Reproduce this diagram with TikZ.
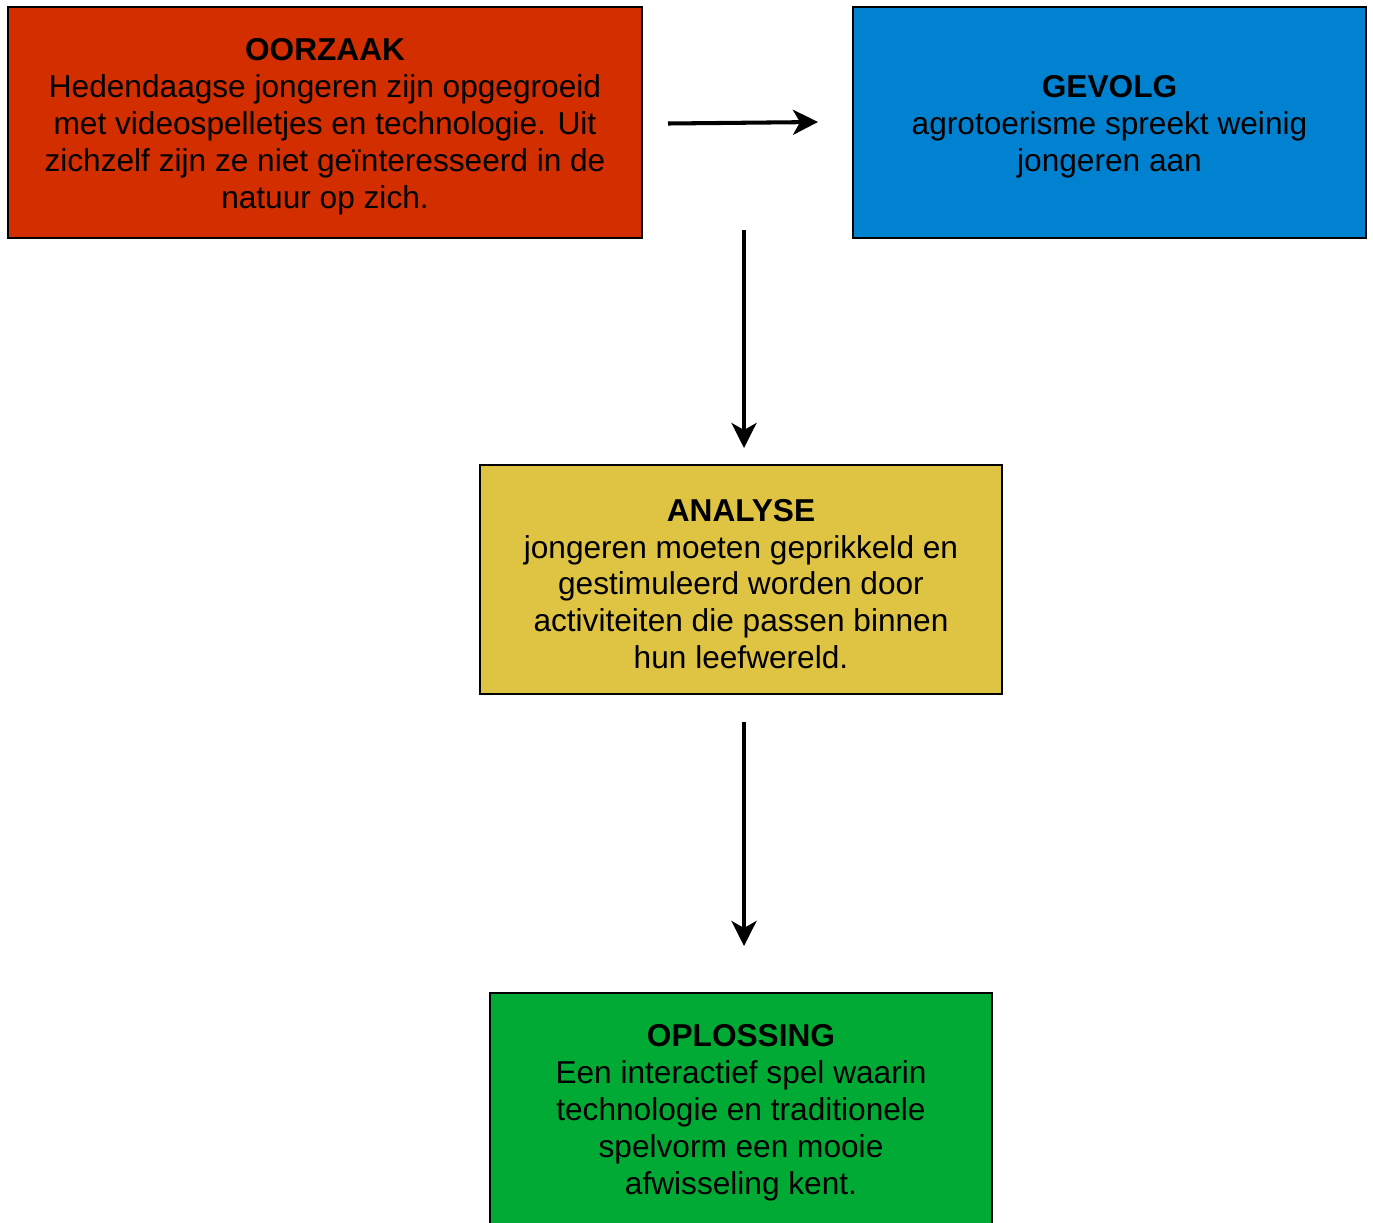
\documentclass[tikz,border=0pt]{standalone}
\usepackage{fontspec}
\setmainfont{Liberation Sans}
\usetikzlibrary{arrows.meta}
\definecolor{oorzaakrood}{RGB}{210,46,0}
\definecolor{gevolgblauw}{RGB}{0,130,208}
\definecolor{analysegeel}{RGB}{222,196,66}
\definecolor{oplossinggroen}{RGB}{0,170,52}
\begin{document}
\begin{tikzpicture}[line width=1.1pt, line join=miter,
    kader/.style={draw=black, rectangle, inner sep=0pt},
    tekst/.style={align=center, inner sep=0pt, yshift=-0.09cm,
      font=\fontsize{18}{21}\selectfont},
    pijl/.style={line width=2.3pt, -{Stealth[length=0.5cm, width=0.5cm, inset=0.14cm]}}]
  \useasboundingbox (0,0) rectangle (27.46,-24.44);
  \clip (0,0) rectangle (27.46,-24.44);
  % de vier kaders
  \node[kader, fill=oorzaakrood, minimum width=12.68cm, minimum height=4.62cm] (oorzaak) at (6.5,-2.45) {};
  \node[kader, fill=gevolgblauw, minimum width=10.26cm, minimum height=4.62cm] (gevolg) at (22.19,-2.45) {};
  \node[kader, fill=analysegeel, minimum width=10.44cm, minimum height=4.58cm] (analyse) at (14.82,-11.59) {};
  \node[kader, fill=oplossinggroen, minimum width=10.04cm, minimum height=4.62cm] (oplossing) at (14.82,-22.17) {};
  % en hun tekst
  \node[tekst] (oorzaaktekst) at (oorzaak.center)
    {\textbf{OORZAAK}\\Hedendaagse jongeren zijn opgegroeid\\met videospelletjes en technologie. Uit\\zichzelf zijn ze niet geïnteresseerd in de\\natuur op zich.};
  \node[tekst] (gevolgtekst) at (gevolg.center)
    {\textbf{GEVOLG}\\agrotoerisme spreekt weinig\\jongeren aan};
  \node[tekst] (analysetekst) at (analyse.center)
    {\textbf{ANALYSE}\\jongeren moeten geprikkeld en\\gestimuleerd worden door\\activiteiten die passen binnen\\hun leefwereld.};
  \node[tekst] (oplossingtekst) at (oplossing.center)
    {\textbf{OPLOSSING}\\Een interactief spel waarin\\technologie en traditionele\\spelvorm een mooie\\afwisseling kent.};
  % de losse pijlen
  \coordinate (pijlAbegin) at (13.36,-2.47);
  \coordinate (pijlAeind) at (16.36,-2.44);
  \coordinate (pijlBbegin) at (14.88,-4.6);
  \coordinate (pijlBeind) at (14.88,-8.96);
  \coordinate (pijlCbegin) at (14.88,-14.44);
  \coordinate (pijlCeind) at (14.88,-18.92);
  \draw[pijl] (pijlAbegin) -- (pijlAeind);
  \draw[pijl] (pijlBbegin) -- (pijlBeind);
  \draw[pijl] (pijlCbegin) -- (pijlCeind);
\end{tikzpicture}
\end{document}
